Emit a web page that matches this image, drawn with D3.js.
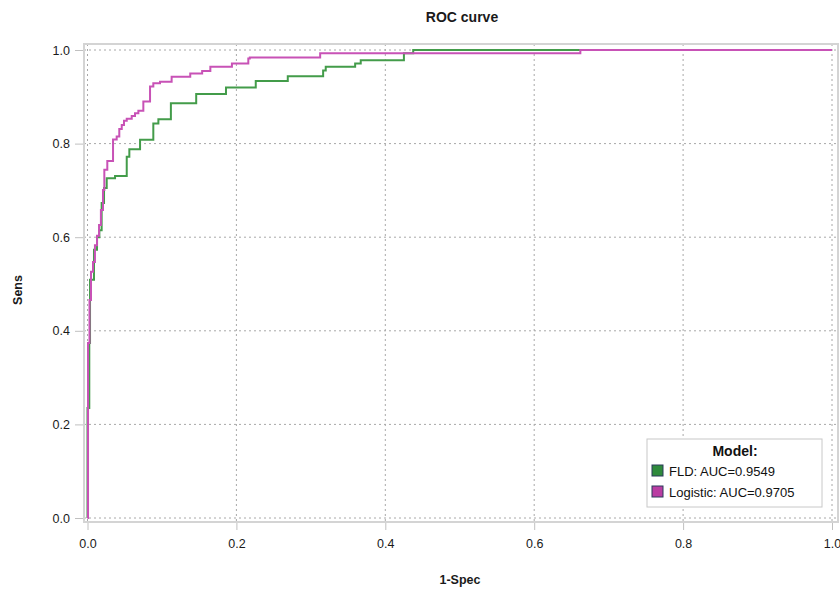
<!DOCTYPE html>
<html>
<head>
    <title>ROC curve</title>
    <script src="https://d3js.org/d3.v7.min.js" charset="utf-8"></script>
    <style>
        body {
            margin: 0;
            background: #fff;
            font-family: "Liberation Sans", Arial, sans-serif;
        }
        .grid line {
            stroke: #a8a8a8;
            stroke-dasharray: 2, 3;
        }
        .axis text {
            font-size: 12.5px;
            fill: #1a1a1a;
        }
        .axis line {
            stroke: #c0c0c0;
        }
        .axis path {
            display: none;
        }
        .lbl {
            font-weight: bold;
            font-size: 12.5px;
            fill: #1a1a1a;
        }
    </style>
</head>
<body>
    <script>
        // ROC points (1-Spec, Sens), step corners
        const fldFpr = [0, 0, 0.0024, 0.0034, 0.0087, 0.0128, 0.0159, 0.019, 0.0222, 0.0258, 0.037, 0.0527, 0.0562, 0.0706, 0.0884, 0.0952, 0.112, 0.146, 0.186, 0.226, 0.269, 0.3165, 0.32, 0.3595, 0.367, 0.425, 0.4375, 1];
        const fldTpr = [0, 0.235, 0.374, 0.509, 0.573, 0.600, 0.615, 0.673, 0.705, 0.726, 0.731, 0.772, 0.788, 0.808, 0.843, 0.852, 0.886, 0.906, 0.920, 0.934, 0.944, 0.956, 0.964, 0.971, 0.978, 0.993, 1, 1];
        const logFpr = [0, 0.0007, 0.0027, 0.0047, 0.0074, 0.010, 0.0128, 0.0155, 0.018, 0.0208, 0.0226, 0.0266, 0.0343, 0.0392, 0.0427, 0.046, 0.049, 0.0527, 0.0594, 0.0638, 0.0683, 0.075, 0.084, 0.0884, 0.0974, 0.113, 0.138, 0.154, 0.165, 0.194, 0.216, 0.218, 0.3125, 0.662, 1];
        const logTpr = [0, 0.374, 0.466, 0.526, 0.547, 0.583, 0.603, 0.626, 0.658, 0.701, 0.744, 0.763, 0.809, 0.815, 0.831, 0.840, 0.849, 0.853, 0.859, 0.865, 0.870, 0.890, 0.922, 0.929, 0.932, 0.943, 0.950, 0.955, 0.964, 0.971, 0.982, 0.984, 0.993, 1, 1];

        const models = ["FLD: AUC=0.9549", "Logistic: AUC=0.9705"];
        const lineColors = ["#439c4a", "#c852b6"];
        const swatchColors = ["#2f8a3c", "#b93da2"];
        const ticks = [0, 0.2, 0.4, 0.6, 0.8, 1.0];

        const width = 840;
        const height = 590;

        const svg = d3.select('body')
            .append('svg')
            .attr('width', width)
            .attr('height', height)

        const x = d3.scaleLinear().domain([0, 1]).range([87.5, 832]);
        const y = d3.scaleLinear().domain([0, 1]).range([518, 50]);

        const fLeft = x(0) - 3.5, fRight = x(1) + 6, fTop = y(1) - 6, fBottom = y(0) + 4;

        // grid
        const grid = svg.append('g').attr('class', 'grid');
        grid.selectAll('line.v')
            .data(ticks)
            .enter()
            .append('line')
            .attr('class', 'v')
            .attr('x1', d => x(d)).attr('x2', d => x(d))
            .attr('y1', fTop).attr('y2', fBottom);
        grid.selectAll('line.h')
            .data(ticks)
            .enter()
            .append('line')
            .attr('class', 'h')
            .attr('y1', d => y(d)).attr('y2', d => y(d))
            .attr('x1', fLeft).attr('x2', fRight);

        // frame
        svg.append('rect')
            .attr('x', fLeft).attr('y', fTop)
            .attr('width', fRight - fLeft).attr('height', fBottom - fTop)
            .attr('fill', 'none')
            .attr('stroke', '#d4d4d4')
            .attr('stroke-width', 2);

        // axes
        svg.append('g')
            .attr('class', 'axis')
            .attr('transform', `translate(${fLeft - 1},0)`)
            .call(d3.axisLeft(y).tickValues(ticks).tickFormat(d3.format('.1f')).tickSize(8).tickPadding(5));
        svg.append('g')
            .attr('class', 'axis')
            .attr('transform', `translate(0,${fBottom + 1})`)
            .call(d3.axisBottom(x).tickValues(ticks).tickFormat(d3.format('.1f')).tickSize(7).tickPadding(9));

        // curves
        const line = d3.line()
            .x(d => x(d[0]))
            .y(d => y(d[1]))
            .curve(d3.curveStepAfter);
        const series = [d3.zip(fldFpr, fldTpr), d3.zip(logFpr, logTpr)];
        svg.append('g')
            .selectAll('path')
            .data(series)
            .enter()
            .append('path')
            .attr('fill', 'none')
            .attr('stroke', (d, i) => lineColors[i])
            .attr('stroke-width', 2)
            .attr('d', line);

        // titles
        svg.append('text')
            .attr('class', 'lbl')
            .attr('x', 462).attr('y', 22)
            .attr('text-anchor', 'middle')
            .style('font-size', '14px')
            .text('ROC curve');
        svg.append('text')
            .attr('class', 'lbl')
            .attr('x', 460).attr('y', 584)
            .attr('text-anchor', 'middle')
            .text('1-Spec');
        svg.append('text')
            .attr('class', 'lbl')
            .attr('transform', 'translate(22,290) rotate(-90)')
            .attr('text-anchor', 'middle')
            .text('Sens');

        // legend
        const lg = svg.append('g').attr('transform', 'translate(647,439)');
        lg.append('rect')
            .attr('width', 175).attr('height', 68)
            .attr('fill', '#fff')
            .attr('stroke', '#c8c8c8');
        lg.append('text')
            .attr('x', 88).attr('y', 17)
            .attr('text-anchor', 'middle')
            .style('font-weight', 'bold')
            .style('font-size', '14px')
            .attr('fill', '#111')
            .text('Model:');
        const items = lg.selectAll('g.item')
            .data(models)
            .enter()
            .append('g')
            .attr('class', 'item')
            .attr('transform', (d, i) => `translate(5,${26 + i * 21})`);
        items.append('rect')
            .attr('width', 11).attr('height', 11)
            .attr('fill', (d, i) => swatchColors[i])
            .attr('stroke', '#2b3a5a');
        items.append('text')
            .attr('x', 17).attr('y', 10.5)
            .style('font-size', '13px')
            .attr('fill', '#111')
            .text(d => d);
    </script>
</body>
</html>
